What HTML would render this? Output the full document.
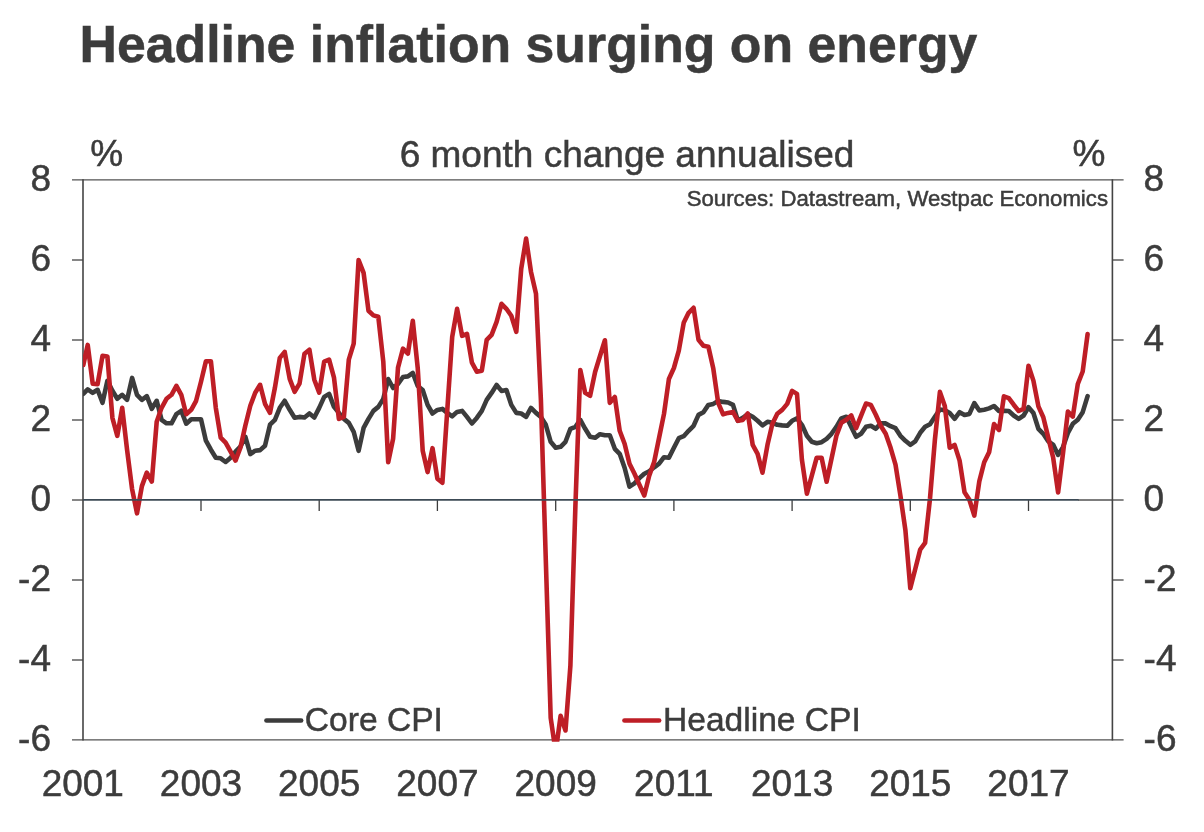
<!DOCTYPE html><html><head><meta charset="utf-8"><title>Headline inflation surging on energy</title>
<style>html,body{margin:0;padding:0;background:#fff;}svg{display:block;}text{font-family:"Liberation Sans",sans-serif;fill:#3c3c3c;stroke:#3c3c3c;stroke-width:0.5px;}</style></head><body>
<svg width="1204" height="832" viewBox="0 0 1204 832">
<rect width="1204" height="832" fill="#fff"/>
<text x="79.5" y="62.3" font-size="51.8" font-weight="bold" fill="#3a3a3a">Headline inflation surging on energy</text>
<g stroke="#525252" stroke-width="1.4" fill="none">
<line x1="72" y1="179.9" x2="1123.6" y2="179.9"/>
<line x1="72" y1="739.9" x2="1123.6" y2="739.9"/>
<line x1="72" y1="260.0" x2="83" y2="260.0"/>
<line x1="1112.4" y1="260.0" x2="1123.6" y2="260.0"/>
<line x1="72" y1="340.0" x2="83" y2="340.0"/>
<line x1="1112.4" y1="340.0" x2="1123.6" y2="340.0"/>
<line x1="72" y1="420.0" x2="83" y2="420.0"/>
<line x1="1112.4" y1="420.0" x2="1123.6" y2="420.0"/>
<line x1="72" y1="500.0" x2="83" y2="500.0"/>
<line x1="1112.4" y1="500.0" x2="1123.6" y2="500.0"/>
<line x1="72" y1="580.0" x2="83" y2="580.0"/>
<line x1="1112.4" y1="580.0" x2="1123.6" y2="580.0"/>
<line x1="72" y1="660.0" x2="83" y2="660.0"/>
<line x1="1112.4" y1="660.0" x2="1123.6" y2="660.0"/>
<line x1="1078" y1="500" x2="1113" y2="500"/>
</g>
<g stroke="#444" stroke-width="1.6" fill="none">
<line x1="83" y1="179.3" x2="83" y2="740.5"/>
<line x1="1112.4" y1="179.3" x2="1112.4" y2="740.5"/>
</g>
<text x="51" y="191.0" font-size="37" text-anchor="end">8</text>
<text x="1143.6" y="191.0" font-size="37">8</text>
<text x="51" y="271.0" font-size="37" text-anchor="end">6</text>
<text x="1143.6" y="271.0" font-size="37">6</text>
<text x="51" y="351.0" font-size="37" text-anchor="end">4</text>
<text x="1143.6" y="351.0" font-size="37">4</text>
<text x="51" y="431.0" font-size="37" text-anchor="end">2</text>
<text x="1143.6" y="431.0" font-size="37">2</text>
<text x="51" y="511.0" font-size="37" text-anchor="end">0</text>
<text x="1143.6" y="511.0" font-size="37">0</text>
<text x="51" y="591.0" font-size="37" text-anchor="end">-2</text>
<text x="1143.6" y="591.0" font-size="37">-2</text>
<text x="51" y="671.0" font-size="37" text-anchor="end">-4</text>
<text x="1143.6" y="671.0" font-size="37">-4</text>
<text x="51" y="751.0" font-size="37" text-anchor="end">-6</text>
<text x="1143.6" y="751.0" font-size="37">-6</text>
<text x="82.8" y="796" font-size="37" text-anchor="middle">2001</text>
<text x="201.0" y="796" font-size="37" text-anchor="middle">2003</text>
<text x="319.2" y="796" font-size="37" text-anchor="middle">2005</text>
<text x="437.4" y="796" font-size="37" text-anchor="middle">2007</text>
<text x="555.7" y="796" font-size="37" text-anchor="middle">2009</text>
<text x="673.9" y="796" font-size="37" text-anchor="middle">2011</text>
<text x="792.1" y="796" font-size="37" text-anchor="middle">2013</text>
<text x="910.3" y="796" font-size="37" text-anchor="middle">2015</text>
<text x="1028.5" y="796" font-size="37" text-anchor="middle">2017</text>
<text x="90.2" y="166.1" font-size="37">%</text>
<text x="1072.5" y="166.1" font-size="37">%</text>
<text x="627" y="167" font-size="37" text-anchor="middle">6 month change annualised</text>
<text x="1108" y="206" font-size="22.2" text-anchor="end">Sources: Datastream, Westpac Economics</text>
<line x1="266.5" y1="720.5" x2="301.1" y2="720.5" stroke="#3c3c3c" stroke-width="4.7" stroke-linecap="round"/>
<text x="304.8" y="730.7" font-size="33.6">Core CPI</text>
<line x1="624.5" y1="720.5" x2="659.1" y2="720.5" stroke="#be1e26" stroke-width="4.7" stroke-linecap="round"/>
<text x="663" y="730.7" font-size="33.6">Headline CPI</text>
<clipPath id="c"><rect x="83" y="180" width="1030" height="561.7"/></clipPath>
<path d="M83.3,393.8 L87.7,389.4 L92.7,392.8 L97.6,389.8 L102.5,402.8 L107.4,380.8 L112.4,390.8 L117.3,398.8 L122.2,394.8 L127.1,399.8 L132.1,377.9 L137.0,394.8 L141.9,399.8 L146.8,396.2 L151.8,408.8 L156.7,400.8 L161.6,419.8 L166.5,423.3 L171.5,423.3 L176.4,414.2 L181.3,410.8 L186.2,423.7 L191.2,419.2 L196.1,419.2 L201.0,419.2 L205.9,440.7 L210.9,449.7 L215.8,457.7 L220.7,458.3 L225.6,462.0 L230.6,457.7 L235.5,451.7 L240.4,446.7 L245.3,436.7 L250.3,454.1 L255.2,450.7 L260.1,450.1 L265.0,445.7 L270.0,424.7 L274.9,419.8 L279.8,407.8 L284.7,400.8 L289.7,409.8 L294.6,417.8 L299.5,416.9 L304.5,417.5 L309.4,413.5 L314.3,417.5 L319.2,407.9 L324.2,396.9 L329.1,393.9 L334.0,406.9 L338.9,412.9 L343.9,418.9 L348.8,422.9 L353.7,431.8 L358.6,450.8 L363.6,427.9 L368.5,418.9 L373.4,410.9 L378.3,406.9 L383.3,398.9 L388.2,379.0 L393.1,388.0 L398.0,384.0 L403.0,377.0 L407.9,376.4 L412.8,373.0 L417.7,386.0 L422.7,390.0 L427.6,404.9 L432.5,413.5 L437.4,409.9 L442.4,408.9 L447.3,412.9 L452.2,416.3 L457.1,411.9 L462.1,410.9 L467.0,416.9 L471.9,423.5 L476.8,417.9 L481.8,410.9 L486.7,399.9 L491.6,392.9 L496.6,385.0 L501.5,390.9 L506.4,390.0 L511.3,404.9 L516.3,412.9 L521.2,413.5 L526.1,416.9 L531.0,407.9 L536.0,412.9 L540.9,416.9 L545.8,424.8 L550.7,441.8 L555.7,447.8 L560.6,446.8 L565.5,441.8 L570.4,428.8 L575.4,426.8 L580.3,419.9 L585.2,428.8 L590.1,436.8 L595.1,437.8 L600.0,434.2 L604.9,435.2 L609.8,435.2 L614.8,448.8 L619.7,453.8 L624.6,467.7 L629.5,486.7 L634.5,483.3 L639.4,478.1 L644.3,473.7 L649.2,471.3 L654.2,467.3 L659.1,463.7 L664.0,457.2 L668.9,457.8 L673.9,447.8 L678.8,438.2 L683.7,436.2 L688.6,430.8 L693.6,425.8 L698.5,414.9 L703.4,412.3 L708.4,404.9 L713.3,403.9 L718.2,400.9 L723.1,401.9 L728.1,402.5 L733.0,404.9 L737.9,420.8 L742.8,417.8 L747.8,414.2 L752.7,416.8 L757.6,420.8 L762.5,425.4 L767.5,421.8 L772.4,422.8 L777.3,424.8 L782.2,425.4 L787.2,425.8 L792.1,420.8 L797.0,418.4 L801.9,424.8 L806.9,435.8 L811.8,441.8 L816.7,443.2 L821.6,442.2 L826.6,438.8 L831.5,433.8 L836.4,426.8 L841.3,418.4 L846.3,416.8 L851.2,426.8 L856.1,436.8 L861.0,433.8 L866.0,426.8 L870.9,425.8 L875.8,428.8 L880.7,423.4 L885.7,423.4 L890.6,426.2 L895.5,428.2 L900.4,435.8 L905.4,440.8 L910.3,444.8 L915.2,441.4 L920.2,432.8 L925.1,426.8 L930.0,424.2 L934.9,416.8 L939.9,409.5 L944.8,410.2 L949.7,413.0 L954.6,418.8 L959.6,412.2 L964.5,415.0 L969.4,413.9 L974.3,403.1 L979.3,410.5 L984.2,409.7 L989.1,408.4 L994.0,406.0 L999.0,411.0 L1003.9,410.9 L1008.8,411.0 L1013.7,415.5 L1018.7,418.8 L1023.6,415.5 L1028.5,407.2 L1033.4,413.0 L1038.4,428.8 L1043.3,433.8 L1048.2,441.3 L1053.1,444.6 L1058.1,454.9 L1063.0,447.1 L1067.9,433.0 L1072.8,423.8 L1077.8,419.7 L1082.7,412.2 L1087.6,396.1" fill="none" stroke="#3c3c3c" stroke-width="4.6" stroke-linejoin="round" stroke-linecap="round" clip-path="url(#c)"/>
<path d="M83.3,364.9 L87.7,344.9 L92.7,383.8 L97.6,384.2 L102.5,355.9 L107.4,356.5 L112.4,417.8 L117.3,435.8 L122.2,407.8 L127.1,450.0 L132.1,489.1 L137.0,513.3 L141.9,486.1 L146.8,472.6 L151.8,481.6 L156.7,421.7 L161.6,407.8 L166.5,398.8 L171.5,394.8 L176.4,385.8 L181.3,394.8 L186.2,414.2 L191.2,409.8 L196.1,400.8 L201.0,381.8 L205.9,361.3 L210.9,361.3 L215.8,407.8 L220.7,437.7 L225.6,442.7 L230.6,451.7 L235.5,460.6 L240.4,447.7 L245.3,425.7 L250.3,405.8 L255.2,392.8 L260.1,384.8 L265.0,403.8 L270.0,412.8 L274.9,387.8 L279.8,357.9 L284.7,351.9 L289.7,378.9 L294.6,391.8 L299.5,383.6 L304.5,353.7 L309.4,349.7 L314.3,379.7 L319.2,392.6 L324.2,361.7 L329.1,359.7 L334.0,377.7 L338.9,418.9 L343.9,416.9 L348.8,359.7 L353.7,343.7 L358.6,260.0 L363.6,272.9 L368.5,310.8 L373.4,315.4 L378.3,316.8 L383.3,361.7 L388.2,462.2 L393.1,438.8 L398.0,367.7 L403.0,348.7 L407.9,353.7 L412.8,320.8 L417.7,367.7 L422.7,450.8 L427.6,472.1 L432.5,448.2 L437.4,478.7 L442.4,482.7 L447.3,409.9 L452.2,336.8 L457.1,308.8 L462.1,335.8 L467.0,333.8 L471.9,362.7 L476.8,371.7 L481.8,370.7 L486.7,339.8 L491.6,334.8 L496.6,321.8 L501.5,303.8 L506.4,308.8 L511.3,315.8 L516.3,331.8 L521.2,268.9 L526.1,238.6 L531.0,271.9 L536.0,293.8 L540.9,400.0 L545.8,560.0 L550.7,718.0 L555.7,752.0 L560.6,715.7 L565.5,730.5 L570.4,665.6 L575.4,506.0 L580.3,370.0 L585.2,392.9 L590.1,395.9 L595.1,372.0 L600.0,356.0 L604.9,340.3 L609.8,402.9 L614.8,396.9 L619.7,430.8 L624.6,443.8 L629.5,463.7 L634.5,473.7 L639.4,484.7 L644.3,495.5 L649.2,475.7 L654.2,461.7 L659.1,437.8 L664.0,413.9 L668.9,379.0 L673.9,368.0 L678.8,350.7 L683.7,322.8 L688.6,312.8 L693.6,307.8 L698.5,339.7 L703.4,345.7 L708.4,346.7 L713.3,368.6 L718.2,402.9 L723.1,414.3 L728.1,412.9 L733.0,411.9 L737.9,420.8 L742.8,419.9 L747.8,413.5 L752.7,444.8 L757.6,453.8 L762.5,472.7 L767.5,444.8 L772.4,423.8 L777.3,413.8 L782.2,409.9 L787.2,403.9 L792.1,390.9 L797.0,393.9 L801.9,459.7 L806.9,493.6 L811.8,475.7 L816.7,457.7 L821.6,457.7 L826.6,481.7 L831.5,458.7 L836.4,435.8 L841.3,422.8 L846.3,419.8 L851.2,415.4 L856.1,428.2 L861.0,415.8 L866.0,403.5 L870.9,404.9 L875.8,414.8 L880.7,425.8 L885.7,433.8 L890.6,447.8 L895.5,464.7 L900.4,495.5 L905.4,530.1 L910.3,588.2 L915.2,569.2 L920.2,549.6 L925.1,542.9 L930.0,498.5 L934.9,439.8 L939.9,391.9 L944.8,405.9 L949.7,447.8 L954.6,444.9 L959.6,460.6 L964.5,492.2 L969.4,499.7 L974.3,515.6 L979.3,481.4 L984.2,462.3 L989.1,452.3 L994.0,424.1 L999.0,429.9 L1003.9,396.4 L1008.8,398.1 L1013.7,404.7 L1018.7,411.0 L1023.6,408.9 L1028.5,365.7 L1033.4,380.6 L1038.4,406.4 L1043.3,417.2 L1048.2,437.4 L1053.1,457.3 L1058.1,492.5 L1063.0,453.2 L1067.9,411.6 L1072.8,416.6 L1077.8,384.0 L1082.7,371.5 L1087.6,334.1" fill="none" stroke="#be1e26" stroke-width="4.6" stroke-linejoin="round" stroke-linecap="round" clip-path="url(#c)"/>
<g stroke="#3c3c3c" stroke-width="1.3" fill="none">
<line x1="201.0" y1="500" x2="201.0" y2="511"/>
<line x1="319.2" y1="500" x2="319.2" y2="511"/>
<line x1="437.4" y1="500" x2="437.4" y2="511"/>
<line x1="555.7" y1="500" x2="555.7" y2="511"/>
<line x1="673.9" y1="500" x2="673.9" y2="511"/>
<line x1="792.1" y1="500" x2="792.1" y2="511"/>
<line x1="910.3" y1="500" x2="910.3" y2="511"/>
<line x1="1028.5" y1="500" x2="1028.5" y2="511"/>
</g>
<line x1="83" y1="499.85" x2="1078.65" y2="499.85" stroke="#3c4a55" stroke-width="1.8"/>
</svg></body></html>
